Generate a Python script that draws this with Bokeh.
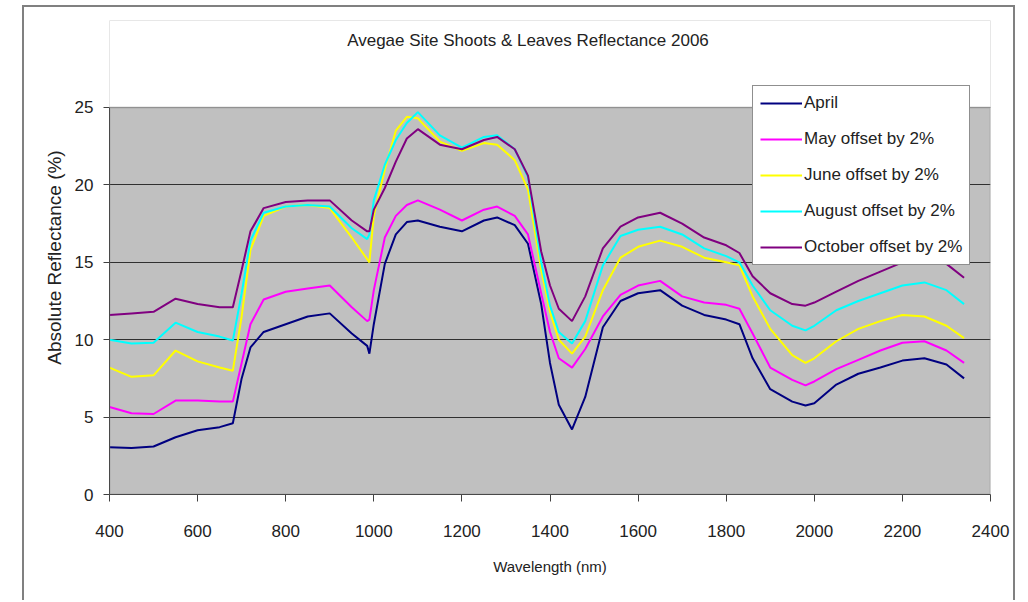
from bokeh.plotting import figure
from bokeh.models import BoxAnnotation, Label, FixedTicker, Legend, LegendItem
from bokeh.embed import file_html
from bokeh.resources import INLINE

wavelength = [400, 450, 500, 550, 600, 650, 680, 700, 720, 750, 800, 850, 900, 950, 985, 990,
              1000, 1025, 1050, 1075, 1100, 1150, 1200, 1250, 1280, 1320, 1350, 1380, 1400, 1420,
              1450, 1480, 1520, 1560, 1600, 1650, 1700, 1750, 1800, 1830, 1860, 1900, 1950, 1980,
              2000, 2050, 2100, 2150, 2200, 2250, 2300, 2340]

april = [3.05, 3.0, 3.1, 3.7, 4.15, 4.35, 4.6, 7.5, 9.5, 10.5, 11.0, 11.5, 11.7, 10.4, 9.6, 9.1,
         11.0, 14.9, 16.8, 17.6, 17.7, 17.3, 17.0, 17.7, 17.9, 17.4, 16.2, 12.3, 8.5, 5.8,
         4.2, 6.3, 10.8, 12.5, 13.0, 13.2, 12.2, 11.6, 11.3, 11.0, 8.8, 6.8, 6.0, 5.75,
         5.9, 7.1, 7.8, 8.2, 8.65, 8.8, 8.4, 7.5]

may = [5.65, 5.25, 5.2, 6.07, 6.07, 6.0, 6.0, 8.5, 11.0, 12.6, 13.1, 13.3, 13.5, 12.1, 11.2, 11.3,
       13.2, 16.6, 18.0, 18.7, 19.0, 18.4, 17.7, 18.4, 18.6, 18.0, 16.8, 13.0, 10.5, 8.8,
       8.2, 9.4, 11.5, 12.9, 13.5, 13.8, 12.8, 12.4, 12.25, 12.0, 10.4, 8.2, 7.4, 7.05,
       7.3, 8.1, 8.7, 9.3, 9.8, 9.9, 9.3, 8.5]

june = [8.2, 7.6, 7.7, 9.3, 8.6, 8.2, 8.0, 11.5, 15.8, 18.0, 18.6, 18.7, 18.5, 16.6, 15.2, 15.0,
        18.0, 21.0, 23.5, 24.4, 24.3, 22.8, 22.2, 22.7, 22.6, 21.6, 19.7, 14.5, 11.8, 10.0,
        9.1, 10.2, 13.2, 15.3, 16.0, 16.4, 16.0, 15.3, 15.0, 14.8, 12.8, 10.7, 9.0, 8.5,
        8.8, 9.9, 10.7, 11.2, 11.6, 11.5, 10.9, 10.1]

august = [10.0, 9.75, 9.8, 11.1, 10.5, 10.2, 9.95, 13.0, 16.4, 18.2, 18.6, 18.7, 18.6, 17.2, 16.5, 16.8,
          19.0, 21.3, 22.9, 24.0, 24.7, 23.2, 22.4, 23.1, 23.2, 22.3, 20.5, 15.0, 12.2, 10.5,
          9.75, 11.2, 14.8, 16.7, 17.1, 17.3, 16.8, 15.9, 15.4, 15.0, 13.5, 11.9, 10.9, 10.6,
          10.9, 11.9, 12.5, 13.0, 13.5, 13.7, 13.2, 12.3]

october = [11.6, 11.7, 11.8, 12.65, 12.3, 12.1, 12.1, 14.5, 17.0, 18.5, 18.9, 19.0, 19.0, 17.7, 17.0, 17.0,
           18.4, 19.8, 21.5, 23.0, 23.6, 22.6, 22.3, 22.9, 23.1, 22.3, 20.6, 15.7, 13.5, 12.0,
           11.2, 12.8, 15.9, 17.3, 17.9, 18.2, 17.5, 16.6, 16.1, 15.6, 14.1, 13.0, 12.3, 12.2,
           12.4, 13.1, 13.8, 14.4, 15.0, 15.3, 14.9, 14.0]

series_names = ["April", "May offset by 2%", "June offset by 2%", "August offset by 2%", "October offset by 2%"]
series_values = [april, may, june, august, october]
series_colors = ["#000080", "#FF00FF", "#FFFF00", "#00FFFF", "#800080"]

x_ticks = [400, 600, 800, 1000, 1200, 1400, 1600, 1800, 2000, 2200, 2400]
y_ticks = [0, 5, 10, 15, 20, 25]

X_MIN, X_MAX = 400, 2400
Y_MIN, Y_MAX = 0, 25
Y_VIEW_TOP = 30.62  # extra room above the plot area for the title and legend

FONT = "Liberation Sans"

# canvas sits inside a 2px grey chart border starting at page (22, 5)
p = figure(width=993, height=595, x_range=(X_MIN, X_MAX), y_range=(Y_MIN, Y_VIEW_TOP),
           output_backend="svg", toolbar_location=None,
           min_border_left=85, min_border_right=27, min_border_top=13, min_border_bottom=108,
           background_fill_color="#C0C0C0", border_fill_color="white",
           styles={"margin-left": "22px", "margin-top": "5px",
                   "border": "2px solid #808080", "border-bottom": "none"})

p.outline_line_color = None

# axes
p.xaxis.ticker = FixedTicker(ticks=x_ticks)
p.yaxis.ticker = FixedTicker(ticks=y_ticks)
p.yaxis.bounds = (Y_MIN, Y_MAX)
for ax in (p.xaxis, p.yaxis):
    ax.axis_line_color = "#404040"
    ax.axis_line_width = 1
    ax.major_tick_line_color = "#404040"
    ax.major_tick_in = 0
    ax.minor_tick_line_color = None
    ax.major_label_text_font = FONT
    ax.major_label_text_font_size = "17px"
    ax.major_label_text_color = "#222222"
    ax.axis_label_text_font = FONT
    ax.axis_label_text_font_style = "normal"
    ax.axis_label_text_color = "#222222"
p.xaxis.major_tick_out = 7
p.yaxis.major_tick_out = 6
p.xaxis.major_label_standoff = 23
p.yaxis.major_label_standoff = 10
p.xaxis.axis_label = "Wavelength (nm)"
p.yaxis.axis_label = "Absolute Reflectance (%)"
p.xaxis.axis_label_text_font_size = "15px"
p.yaxis.axis_label_text_font_size = "19px"
p.xaxis.axis_label_standoff = 18
p.yaxis.axis_label_standoff = 7

p.xgrid.grid_line_color = None
p.ygrid.grid_line_color = "#303030"
p.ygrid.grid_line_width = 1

# white area above the plot area, and the plot-area border
p.add_layout(BoxAnnotation(bottom=Y_MAX, fill_color="white", fill_alpha=1.0, line_color=None))
p.add_layout(BoxAnnotation(left=X_MIN, right=X_MAX, bottom=Y_MIN, top=Y_MAX,
                           fill_alpha=0, line_color="#808080", line_width=2))

items = []
for name, vals, col in zip(series_names, series_values, series_colors):
    r = p.line(wavelength, vals, line_color=col, line_width=2)
    items.append(LegendItem(label=name, renderers=[r]))

legend = Legend(items=items, location=(643, 229))
legend.background_fill_color = "white"
legend.background_fill_alpha = 1.0
legend.border_line_color = "#202020"
legend.border_line_width = 1
legend.label_text_font = FONT
legend.label_text_font_size = "17px"
legend.label_text_color = "#222222"
legend.glyph_width = 42
legend.glyph_height = 20
legend.label_height = 20
legend.spacing = 16
legend.padding = 7
legend.margin = 0
legend.label_standoff = 2
p.add_layout(legend)

title = Label(x=1350, y=29.3, text="Avegae Site Shoots & Leaves Reflectance 2006",
              text_align="center", text_baseline="middle",
              text_font=FONT, text_font_size="17px", text_color="#222222")
p.add_layout(title)

open("out.html", "w").write(file_html(p, INLINE))
